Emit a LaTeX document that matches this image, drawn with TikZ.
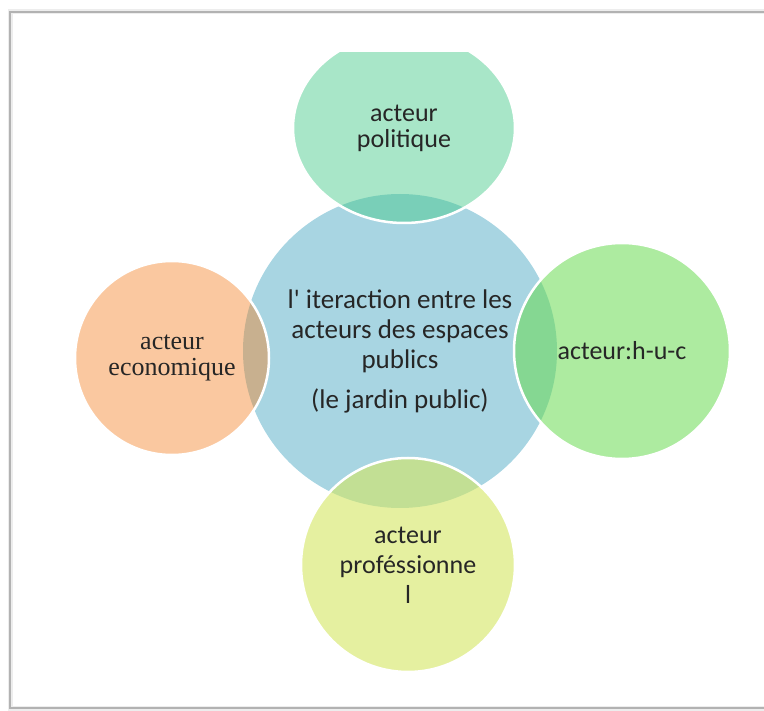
\documentclass[tikz,border=0pt]{standalone}
\usepackage{fontspec}
\setmainfont{Carlito}[Ligatures=TeXOff]
\newfontfamily\econfont{Liberation Serif}
\usetikzlibrary{shapes.geometric}

\definecolor{jardinblue}{RGB}{168,213,226}
\definecolor{polgreen}{RGB}{70,202,138}
\definecolor{ecoorange}{RGB}{244,128,35}
\definecolor{hucgreen}{RGB}{105,218,82}
\definecolor{proyellow}{RGB}{212,230,97}
\definecolor{textgray}{RGB}{38,38,38}

\begin{document}
\begin{tikzpicture}[x=1pt, y=-1pt,
  acteur/.style={circle, inner sep=0pt, draw=white, line width=2.5pt,
    text opacity=1, text=textgray, align=center,
    font=\fontsize{26}{26}\selectfont}]
\useasboundingbox (0,0) rectangle (764,711);

% cadre
\draw[black!7, line width=5pt] (10,12) rectangle (790,708);
\draw[black!30, line width=1.2pt] (10,12) rectangle (790,708);

% cercle central
\node[circle, minimum size=314pt, inner sep=0pt, fill=jardinblue,
  text=textgray, align=center, font=\fontsize{27}{30}\selectfont]
  (jardin) at (400,351)
  {l' iteraction entre les\\acteurs des espaces\\publics\\[10pt](le jardin public)};

% acteurs
\begin{scope}
\clip (0,53) rectangle (764,711);
\node[acteur, ellipse, minimum width=222pt, minimum height=190pt,
  fill=polgreen, fill opacity=0.47] (politique) at (404,128) {acteur\\politique};
\end{scope}
\node[acteur, minimum size=216pt, fill=hucgreen, fill opacity=0.55]
  (huc) at (622,351) {acteur:h-u-c};
\node[acteur, minimum size=194pt, fill=ecoorange, fill opacity=0.43,
  font=\econfont\fontsize{26}{26}\selectfont]
  (economique) at (172,358) {acteur\\economique};
\node[acteur, minimum size=214pt, fill=proyellow, fill opacity=0.6,
  font=\fontsize{26}{30}\selectfont]
  (professionnel) at (408,565) {acteur\\proféssionne\\l};
\end{tikzpicture}
\end{document}
